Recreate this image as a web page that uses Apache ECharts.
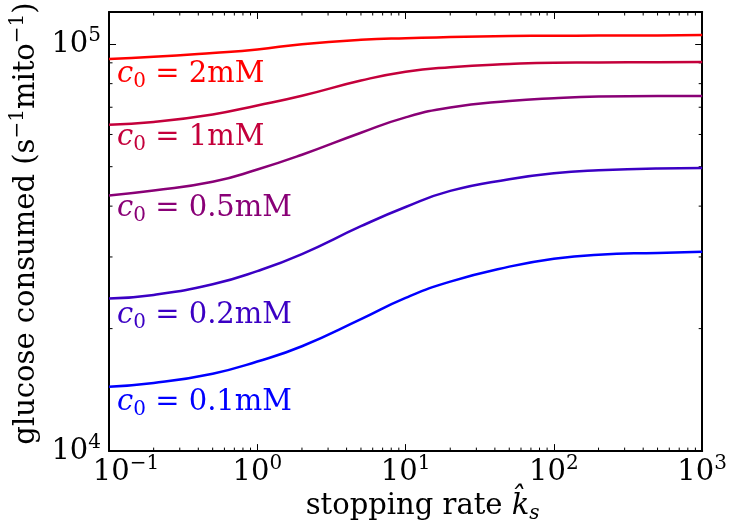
<!DOCTYPE html>
<html>
<head>
<meta charset="utf-8">
<script src="https://cdn.jsdelivr.net/npm/echarts@6/dist/echarts.min.js"></script>
<style>
  html, body { margin: 0; padding: 0; background: #fff; }
  #chart { width: 730px; height: 529px; }
</style>
</head>
<body>
<div id="chart"></div>
<script>
var rates = [0.1, 0.2, 0.5, 1, 2, 5, 10, 20, 50, 100, 200, 500, 1000];

// glucose consumed (s^-1 mito^-1) for each c0
var glc2mM  = [92000, 93100, 95200, 97100, 100000, 102500, 103500, 104100, 104700, 104900, 105000, 105100, 105300];
var glc1mM  = [63400, 64400, 67200, 70700, 74700, 81400, 85600, 87800, 89400, 90100, 90200, 90300, 90400];
var glc05mM = [42500, 43700, 45900, 49200, 53500, 60600, 66100, 69900, 72500, 73700, 74400, 74600, 74600];
var glc02mM = [23700, 24200, 25700, 27700, 30500, 35700, 39800, 43600, 46600, 48200, 49000, 49500, 49600];
var glc01mM = [14400, 14700, 15500, 16600, 18100, 21100, 23800, 26100, 28400, 29700, 30400, 30700, 30900];

var concs = ['2', '1', '0.5', '0.2', '0.1'];

// minor tick positions (log axes)
var xMinor = [0.2, 0.3, 0.4, 0.5, 0.6, 0.7, 0.8, 0.9,
              2, 3, 4, 5, 6, 7, 8, 9,
              20, 30, 40, 50, 60, 70, 80, 90,
              200, 300, 400, 500, 600, 700, 800, 900];
var yMinor = [20000, 30000, 40000, 50000, 60000, 70000, 80000, 90000];

var FONT = 'DejaVu Serif';
var FS = 29;
var MAJOR = 7, MINOR = 3.5;
var X_MIN = 0.1, X_MAX = 1000, Y_MIN = 1e4, Y_MAX = 1.2e5;

var chart = echarts.init(document.getElementById('chart'));

function powLabel(v) {
  var e = Math.round(Math.log10(v));
  if (Math.abs(v / Math.pow(10, e) - 1) > 1e-6) return '';
  var sup = e < 0 ? '\u2212' + (-e) : '' + e;
  return (e === -1 ? '{p|10}' : '{b|10}') + '{s|' + sup + '}';
}

var tickRich = {
  b: { fontFamily: FONT, fontSize: FS, lineHeight: 36, color: '#000' },
  p: { fontFamily: FONT, fontSize: FS, lineHeight: 36, color: '#000', padding: [0, 0, 0, 34] },
  s: { fontFamily: FONT, fontSize: 20, lineHeight: 16, verticalAlign: 'top', color: '#000' }
};

var axisLine = { show: true, lineStyle: { color: '#000', width: 2 } };
var axisTick = { show: true, inside: true, length: MAJOR, lineStyle: { color: '#000', width: 1 } };

var colors = ['#ff0000', 'rgb(196,0,59)', 'rgb(137,0,118)', 'rgb(59,0,196)', '#0000ff'];
var labelDy = [-1, -4, -4, 0, -1];
var curves = [glc2mM, glc1mM, glc05mM, glc02mM, glc01mM];

var series = curves.map(function (vals, k) {
  var col = colors[k];
  return {
    type: 'line',
    name: concs[k] + 'mM',
    smooth: 0.5,
    symbol: 'circle',
    symbolSize: 0.1,
    showSymbol: true,
    lineStyle: { color: col, width: 2.5 },
    itemStyle: { color: col },
    label: {
      show: false,
      position: [8, labelDy[k]],
      formatter: '{c|c}{z|0}{n| = ' + concs[k] + 'mM}',
      rich: {
        c: { fontFamily: FONT, fontStyle: 'italic', fontSize: FS, lineHeight: 34, color: col },
        z: { fontFamily: FONT, fontSize: 20, lineHeight: 20, verticalAlign: 'bottom', color: col },
        n: { fontFamily: FONT, fontSize: FS, lineHeight: 34, color: col }
      }
    },
    emphasis: { disabled: true },
    data: rates.map(function (r, i) {
      return i === 0 ? { value: [r, vals[i]], label: { show: true } } : [r, vals[i]];
    })
  };
});

// minor ticks on all four sides, placed through the axis scales
series.push({
  type: 'custom',
  silent: true,
  clip: false,
  data: xMinor.map(function (v) { return [v, Y_MIN]; }),
  renderItem: function (params, api) {
    var cs = params.coordSys;
    var x = api.coord([api.value(0), Y_MIN])[0];
    var st = { stroke: '#000', lineWidth: 1 };
    return { type: 'group', children: [
      { type: 'line', shape: { x1: x, y1: cs.y + cs.height, x2: x, y2: cs.y + cs.height - MINOR }, style: st },
      { type: 'line', shape: { x1: x, y1: cs.y, x2: x, y2: cs.y + MINOR }, style: st }
    ] };
  }
});
series.push({
  type: 'custom',
  silent: true,
  clip: false,
  data: yMinor.map(function (v) { return [X_MIN, v]; }),
  renderItem: function (params, api) {
    var cs = params.coordSys;
    var y = api.coord([X_MIN, api.value(1)])[1];
    var st = { stroke: '#000', lineWidth: 1 };
    return { type: 'group', children: [
      { type: 'line', shape: { x1: cs.x, y1: y, x2: cs.x + MINOR, y2: y }, style: st },
      { type: 'line', shape: { x1: cs.x + cs.width, y1: y, x2: cs.x + cs.width - MINOR, y2: y }, style: st }
    ] };
  }
});

chart.setOption({
  animation: false,
  backgroundColor: '#fff',
  grid: { left: 108, top: 12, width: 596, height: 445 },
  xAxis: [{
    type: 'log', logBase: 10, min: X_MIN, max: X_MAX, position: 'bottom',
    axisLine: axisLine, axisTick: axisTick, splitLine: { show: false },
    axisLabel: { margin: 3, formatter: powLabel, rich: tickRich },
    name: '{m|stopping rate }{k|k\u0302}{s|s}',
    nameLocation: 'middle', nameGap: 30,
    nameTextStyle: {
      rich: {
        m: { fontFamily: FONT, fontSize: FS, lineHeight: 36, color: '#000', padding: [0, 0, 0, 34] },
        k: { fontFamily: FONT, fontStyle: 'italic', fontSize: FS, lineHeight: 36, color: '#000' },
        s: { fontFamily: FONT, fontStyle: 'italic', fontSize: 20, lineHeight: 22, verticalAlign: 'bottom', color: '#000' }
      }
    }
  }, {
    type: 'log', logBase: 10, min: X_MIN, max: X_MAX, position: 'top',
    axisLine: axisLine, axisTick: axisTick, splitLine: { show: false }, axisLabel: { show: false }
  }],
  yAxis: [{
    type: 'log', logBase: 10, min: Y_MIN, max: Y_MAX, position: 'left',
    axisLine: axisLine, axisTick: axisTick, splitLine: { show: false },
    axisLabel: { margin: 8, formatter: powLabel, rich: tickRich },
    name: '{f|glucose consumed (s}{u|\u22121}{m|mito}{u|\u22121}{m|)}',
    nameLocation: 'middle', nameRotate: 90, nameGap: 59,
    nameTextStyle: {
      rich: {
        f: { fontFamily: FONT, fontSize: FS, lineHeight: 36, color: '#000', padding: [0, 0, 0, 16] },
        m: { fontFamily: FONT, fontSize: FS, lineHeight: 36, color: '#000' },
        u: { fontFamily: FONT, fontSize: 20, lineHeight: 16, verticalAlign: 'top', color: '#000' }
      }
    }
  }, {
    type: 'log', logBase: 10, min: Y_MIN, max: Y_MAX, position: 'right',
    axisLine: axisLine, axisTick: axisTick, splitLine: { show: false }, axisLabel: { show: false }
  }],
  series: series
});
</script>
</body>
</html>
